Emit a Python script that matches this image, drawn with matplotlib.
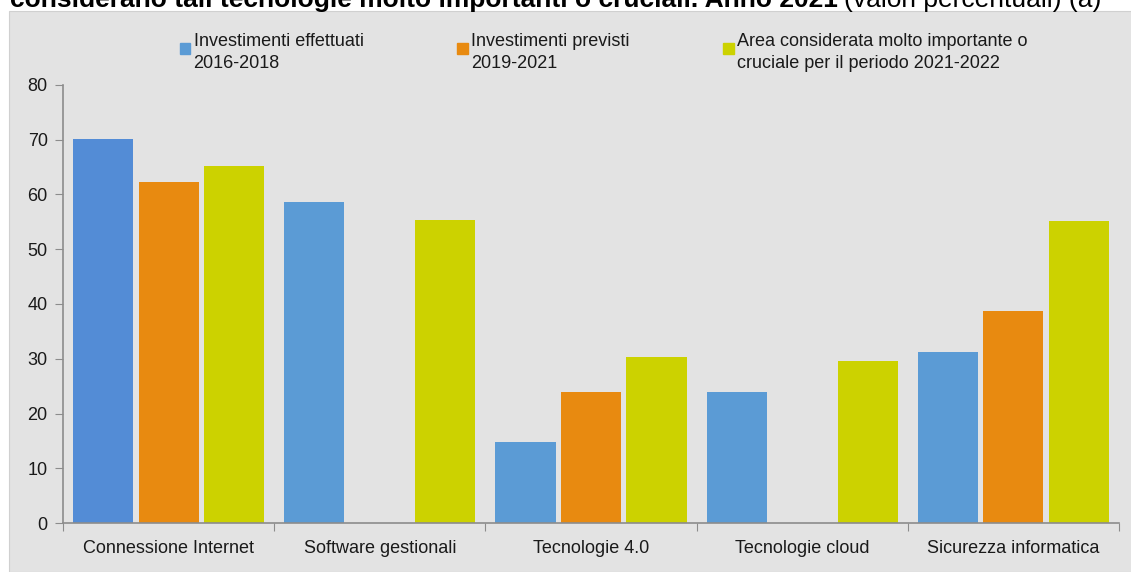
import numpy as np
import matplotlib
matplotlib.use("Agg")
import matplotlib.pyplot as plt
from matplotlib.patches import Rectangle, Patch
from matplotlib.legend_handler import HandlerPatch

plt.rcParams["font.family"] = ["Liberation Sans", "DejaVu Sans"]

# ── Dati ────────────────────────────────────────────────────────────────────
categorie = ["Connessione Internet", "Software gestionali", "Tecnologie 4.0",
             "Tecnologie cloud", "Sicurezza informatica"]
effettuati = [70.2, 58.6, 14.8, 23.9, 31.2]
previsti = [62.3, np.nan, 23.9, np.nan, 38.7]
importanti = [65.2, 55.3, 30.3, 29.6, 55.2]

etichette = ["Investimenti effettuati\n2016-2018",
             "Investimenti previsti\n2019-2021",
             "Area considerata molto importante o\ncruciale per il periodo 2021-2022"]

BLU = ["#538CD6", "#5B9BD5", "#5B9BD5", "#5B9BD5", "#5B9BD5"]
ARANCIO = "#E88A10"
GIALLO = "#CCD200"
SFONDO = "#E3E3E3"
ASSE = "#8C8C8C"
FS = 13

# ── Figura ──────────────────────────────────────────────────────────────────
fig = plt.figure(figsize=(11.31, 5.72), dpi=100, facecolor="white")
fig.patches.append(Rectangle((9 / 1131, 0), 1, 1 - 11 / 572,
                             transform=fig.transFigure, facecolor=SFONDO,
                             edgecolor="#D0D0D0", linewidth=0.8, zorder=-1))

ax = fig.add_axes([63 / 1131, 1 - 523 / 572, (1119 - 63) / 1131, (523 - 85) / 572])
ax.set_facecolor("none")

x = np.arange(len(categorie))
w = 0.285
ax.bar(x - 0.31, effettuati, w, color=BLU, zorder=2)
ax.bar(x, previsti, w, color=ARANCIO, zorder=2)
ax.bar(x + 0.31, importanti, w, color=GIALLO, zorder=2)

ax.set_xlim(-0.5, len(categorie) - 0.5)
ax.set_ylim(0, 80)
ax.set_yticks(range(0, 81, 10))

# tick di categoria sui confini, etichette al centro
ax.set_xticks(np.arange(-0.5, len(categorie), 1.0))
ax.set_xticklabels([])
ax.set_xticks(x, minor=True)
ax.set_xticklabels(categorie, minor=True)
ax.tick_params(axis="x", which="minor", length=0, pad=12, labelsize=FS, labelcolor="#1A1A1A")
ax.tick_params(axis="x", which="major", length=6, color=ASSE, direction="out")
ax.tick_params(axis="y", length=6, color=ASSE, labelsize=FS, labelcolor="#1A1A1A", pad=5)

for s in ["top", "right"]:
    ax.spines[s].set_visible(False)
for s in ["left", "bottom"]:
    ax.spines[s].set_color(ASSE)
    ax.spines[s].set_linewidth(1.2)

# ── Legenda ─────────────────────────────────────────────────────────────────
def quadratino(legend, orig_handle, xdescent, ydescent, width, height, fontsize):
    # quadrato allineato alla prima riga del testo
    s = 7.5
    return Rectangle((-xdescent, -ydescent + height - s - 3.5), s, s)

maniglie = [Patch(color=BLU[1]), Patch(color=ARANCIO), Patch(color=GIALLO)]
leg = fig.legend(maniglie, etichette, ncol=3, loc="upper left",
                 bbox_to_anchor=(180 / 1131, 1 - 33 / 572), frameon=False,
                 fontsize=FS, handlelength=0.45, handleheight=2.2,
                 handletextpad=0.3, columnspacing=5.2, labelspacing=0.2,
                 borderpad=0, borderaxespad=0,
                 handler_map={Patch: HandlerPatch(patch_func=quadratino)})
for t in leg.get_texts():
    t.set_color("#1A1A1A")
    t.set_linespacing(1.4)

# ── Titolo (tagliato in alto) ───────────────────────────────────────────────
t1 = fig.text(10 / 1131, 1 - 7.5 / 572,
              "considerano tali tecnologie molto importanti o cruciali. Anno 2021",
              fontsize=19, fontweight="bold", va="baseline", ha="left")
r = fig.canvas.get_renderer()
bb = t1.get_window_extent(r)
fig.text((bb.x1 + 6) / 1131, 1 - 7.5 / 572, "(valori percentuali) (a)",
         fontsize=19, va="baseline", ha="left")

fig.savefig("out.png", dpi=100, facecolor="white")
